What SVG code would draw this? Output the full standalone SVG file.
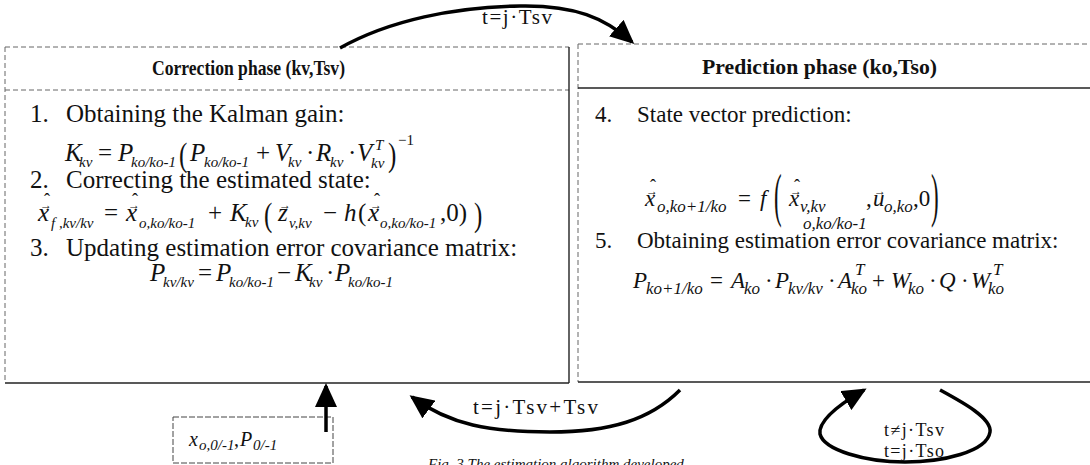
<svg xmlns="http://www.w3.org/2000/svg" width="1090" height="465" viewBox="0 0 1090 465">
<defs>
<marker id="ah" markerUnits="userSpaceOnUse" viewBox="0 0 24 22" markerWidth="24" markerHeight="22" refX="21" refY="11" orient="auto">
<path d="M0,0 L24,11 L0,22 z" fill="#000"/>
</marker>
</defs>
<style>
text{font-family:"Liberation Serif","Times New Roman",serif;fill:#111}
.h{font-weight:bold}
.i{font-style:italic}
.f25{font-size:25px}
.f23{font-size:23px}
.f21{font-size:21px}
.f20{font-size:20px}
.f18{font-size:18px}
.s15{font-size:15px;font-style:italic}
.s17{font-size:17px;font-style:italic}
.ar{font-size:12px}
.hat{font-size:18px}
.frame{stroke:#222;stroke-width:1.4;fill:none}
.dot{stroke:#666;stroke-width:1;stroke-dasharray:5 3;fill:none}
.conn{stroke:#000;stroke-width:3.5;fill:none;marker-end:url(#ah)}
.box{stroke:#444;stroke-width:1;stroke-dasharray:6 2;fill:none}
</style>

<g id="correction-phase">
<line class="dot" x1="5" y1="47" x2="569" y2="47"/>
<line class="dot" x1="5" y1="47" x2="5" y2="383"/>
<line class="dot" x1="5" y1="90" x2="569" y2="90"/>
<line class="frame" x1="5" y1="383" x2="569" y2="383"/>
<line class="frame" x1="569" y1="47" x2="569" y2="383"/>
<text class="h" font-size="21" x="152" y="75" textLength="193" lengthAdjust="spacingAndGlyphs">Correction phase (kv,Tsv)</text>
<text class="f25" x="30" y="122">1.</text>
<text class="f25" x="66" y="122">Obtaining the Kalman gain:</text>
<text class="i f25" x="65" y="161">K</text>
<text class="s15" x="79" y="167">kv</text>
<text class="f25" x="98" y="161">=</text>
<text class="i f25" x="118" y="161">P</text>
<text class="s15" x="131" y="167">ko/ko-1</text>
<text class="f25" transform="translate(179,166) scale(1,1.35)">(</text>
<text class="i f25" x="190" y="161">P</text>
<text class="s15" x="204" y="167">ko/ko-1</text>
<text class="f25" x="256" y="161">+</text>
<text class="i f25" x="275" y="161">V</text>
<text class="s15" x="288" y="167">kv</text>
<text class="f25" x="306" y="161">·</text>
<text class="i f25" x="316" y="161">R</text>
<text class="s15" x="330" y="167">kv</text>
<text class="f25" x="348" y="161">·</text>
<text class="i f25" x="357" y="161">V</text>
<text class="s15" x="371" y="168">kv</text>
<text class="s15" x="375" y="150">T</text>
<text class="f25" transform="translate(388,166) scale(1,1.35)">)</text>
<text font-size="15" x="398" y="145">−1</text>

<text class="f25" x="30" y="188">2.</text>
<text class="f25" x="66" y="188">Correcting the estimated state:</text>
<text class="i f25" x="38" y="221">x</text>
<text class="ar" x="46" y="209" text-anchor="middle">→</text>
<text class="hat" x="47" y="206" text-anchor="middle">ˆ</text>
<text class="s15" x="51" y="228">f ,kv/kv</text>
<text class="f25" x="104" y="221">=</text>
<text class="i f25" x="126" y="221">x</text>
<text class="ar" x="134" y="209" text-anchor="middle">→</text>
<text class="hat" x="135" y="206" text-anchor="middle">ˆ</text>
<text class="s15" x="139" y="228">o,ko/ko-1</text>
<text class="f25" x="208" y="221">+</text>
<text class="i f25" x="230" y="221">K</text>
<text class="s15" x="245" y="227">kv</text>
<text class="f25" transform="translate(264,226) scale(1,1.35)">(</text>
<text class="i f25" x="278" y="221">z</text>
<text class="ar" x="285" y="209" text-anchor="middle">→</text>
<text class="s15" x="289" y="228">v,kv</text>
<text class="f25" x="323" y="221">−</text>
<text class="i f25" x="344" y="221">h</text>
<text class="f25" x="358" y="221">(</text>
<text class="i f25" x="368" y="221">x</text>
<text class="ar" x="376" y="209" text-anchor="middle">→</text>
<text class="hat" x="377" y="206" text-anchor="middle">ˆ</text>
<text class="s15" x="380" y="228">o,ko/ko-1</text>
<text class="f25" x="440" y="221">,0)</text>
<text class="f25" transform="translate(474,226) scale(1,1.35)">)</text>

<text class="f25" x="30" y="256">3.</text>
<text class="f25" x="66" y="256">Updating estimation error covariance matrix:</text>
<text class="i f25" x="150" y="281">P</text>
<text class="s15" x="163" y="287">kv/kv</text>
<text class="f25" x="198" y="281">=</text>
<text class="i f25" x="216" y="281">P</text>
<text class="s15" x="229" y="287">ko/ko-1</text>
<text class="f25" x="277" y="281">−</text>
<text class="i f25" x="295" y="281">K</text>
<text class="s15" x="309" y="287">kv</text>
<text class="f25" x="326" y="281">·</text>
<text class="i f25" x="335" y="281">P</text>
<text class="s15" x="348" y="287">ko/ko-1</text>
</g>

<g id="prediction-phase">
<line class="dot" x1="578" y1="44" x2="1090" y2="44"/>
<line class="dot" x1="578" y1="44" x2="578" y2="382"/>
<line class="frame" x1="578" y1="88" x2="1090" y2="88"/>
<line class="frame" x1="578" y1="382" x2="1090" y2="382"/>
<text class="h" font-size="21" x="702" y="74" textLength="235" lengthAdjust="spacingAndGlyphs">Prediction phase (ko,Tso)</text>
<text class="f23" x="595" y="122">4.</text>
<text class="f23" x="637" y="122">State vector prediction:</text>
<text class="i f23" x="645" y="206">x</text>
<text class="ar" x="652" y="195" text-anchor="middle">→</text>
<text class="hat" x="653" y="192" text-anchor="middle">ˆ</text>
<text class="s17" x="657" y="212">o,ko+1/ko</text>
<text class="f23" x="738" y="206">=</text>
<text class="i f23" x="760" y="206">f</text>
<text class="f23" transform="translate(774,215) scale(1,2.6)">(</text>
<text class="i f23" x="789" y="206">x</text>
<text class="ar" x="796" y="195" text-anchor="middle">→</text>
<text class="hat" x="797" y="192" text-anchor="middle">ˆ</text>
<text class="s17" x="800" y="212">v,kv</text>
<text class="s17" x="803" y="229">o,ko/ko-1</text>
<text class="f23" x="866" y="206">,</text>
<text class="i f23" x="873" y="206">u</text>
<text class="ar" x="880" y="195" text-anchor="middle">→</text>
<text class="s17" x="884" y="212">o,ko</text>
<text class="f23" x="913" y="206">,0</text>
<text class="f23" transform="translate(931,215) scale(1,2.6)">)</text>

<text class="f23" x="595" y="248">5.</text>
<text class="f23" x="637" y="248">Obtaining estimation error covariance matrix:</text>
<text class="i f23" x="633" y="288">P</text>
<text class="s17" x="646" y="294">ko+1/ko</text>
<text class="f23" x="710" y="288">=</text>
<text class="i f23" x="731" y="288">A</text>
<text class="s17" x="744" y="294">ko</text>
<text class="f23" x="765" y="288">·</text>
<text class="i f23" x="775" y="288">P</text>
<text class="s17" x="788" y="294">kv/kv</text>
<text class="f23" x="828" y="288">·</text>
<text class="i f23" x="838" y="288">A</text>
<text class="s17" x="851" y="294">ko</text>
<text class="s17" x="855" y="275">T</text>
<text class="f23" x="872" y="288">+</text>
<text class="i f23" x="891" y="288">W</text>
<text class="s17" x="908" y="294">ko</text>
<text class="f23" x="929" y="288">·</text>
<text class="i f23" x="939" y="288">Q</text>
<text class="f23" x="961" y="288">·</text>
<text class="i f23" x="971" y="288">W</text>
<text class="s17" x="988" y="294">ko</text>
<text class="s17" x="993" y="275">T</text>
</g>

<g id="initial-state">
<rect class="box" x="173" y="417" width="160" height="46"/>
<text class="i f20" x="189" y="446">x</text>
<text class="s15" x="199" y="450" font-size="13">o,0/-1</text>
<text class="f20" x="234" y="446">,</text>
<text class="i f20" x="240" y="446">P</text>
<text class="s15" x="253" y="450" font-size="13">0/-1</text>
</g>

<g id="connectors">
<path class="conn" d="M340,48 C390,20 455,7 520,6 C575,5 605,18 632,42"/>
<path class="conn" d="M680,390 C650,420 610,432 550,432 C490,432 450,425 412,397"/>
<path class="conn" d="M326,432 L326,386"/>
<path class="conn" d="M940,390 C962,402 992,418 990,432 C987,452 942,462 905,462 C865,462 824,450 820,434 C818,420 840,404 864,390"/>
<text class="f21" x="482" y="24" textLength="70" lengthAdjust="spacing">t=j·Tsv</text>
<text class="f21" x="473" y="414" textLength="125" lengthAdjust="spacing">t=j·Tsv+Tsv</text>
<text class="f18" x="884" y="436" textLength="60" lengthAdjust="spacing">t≠j·Tsv</text>
<text class="f18" x="884" y="457" textLength="60" lengthAdjust="spacing">t=j·Tso</text>
</g>

<text class="i" font-size="15" x="428" y="469">Fig. 3 The estimation algorithm developed</text>
</svg>
